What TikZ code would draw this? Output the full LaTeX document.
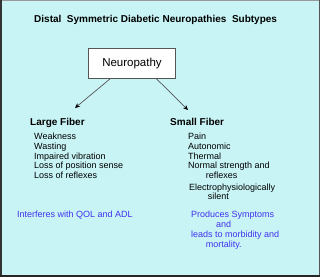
\documentclass[tikz,border=0pt]{standalone}
\usepackage{fontspec}
\setmainfont{Liberation Sans}
\usetikzlibrary{arrows.meta}
\definecolor{bgcyan}{RGB}{200,244,246}
\definecolor{noteblue}{RGB}{64,48,240}
\definecolor{linegray}{RGB}{85,85,85}
\tikzset{
  txt/.style={inner sep=0pt, anchor=base west, font=\fontsize{9}{10}\selectfont},
  head/.style={inner sep=0pt, anchor=base west, font=\fontsize{10}{11}\selectfont\bfseries},
  note/.style={txt, text=noteblue},
  mainbox/.style={draw=linegray, line width=1pt, fill=white, minimum width=87pt, minimum height=30pt, inner sep=0pt, font=\fontsize{11.5}{12}\selectfont},
  conn/.style={draw=linegray, line width=0.7pt, -{Stealth[length=5pt,width=4.5pt,color=black]}}
}
\begin{document}
\begin{tikzpicture}[x=1pt,y=-1pt]
\useasboundingbox (0,0) rectangle (320,277);
\fill[bgcyan] (0,0) rectangle (320,277);
\draw[linegray!60, line width=1pt] (0,0.5) -- (320,0.5);
\draw[black!80, line width=1.5pt] (0.75,0) -- (0.75,277);
\draw[linegray, line width=1.5pt] (319.25,0) -- (319.25,277);
\draw[black!85, line width=2.5pt] (0,275.75) -- (320,275.75);

\node[head] (title) at (34,22) {Distal\ \ Symmetric Diabetic Neuropathies\ \ Subtypes};
\node[mainbox] (neuro) at (132,63.3) {Neuropathy};

\coordinate (lstart) at (110.7,78.3);
\coordinate (rstart) at (156,78.3);
\coordinate (ltip) at (75,108);
\coordinate (rtip) at (188,110);
\draw[conn] (lstart) -- (ltip);
\draw[conn] (rstart) -- (rtip);

\node[head] (large) at (30,125) {Large Fiber};
\node[txt] (l1) at (34,139.5) {Weakness};
\node[txt] (l2) at (34,149.3) {Wasting};
\node[txt] (l3) at (34,159) {Impaired vibration};
\node[txt] (l4) at (34,168.8) {Loss of position sense};
\node[txt] (l5) at (34,178.6) {Loss of reflexes};

\node[head] (small) at (170,125) {Small Fiber};
\node[txt] (s1) at (188,139.5) {Pain};
\node[txt] (s2) at (188,149.3) {Autonomic};
\node[txt] (s3) at (188,159) {Thermal};
\node[txt] (s4) at (188,168.8) {Normal strength and};
\node[txt] (s5) at (205.7,178.6) {reflexes};
\node[txt] (s6) at (189,190) {Electrophysiologically};
\node[txt] (s7) at (207.7,199) {silent};

\node[note] (n1) at (17,217.5) {Interferes with QOL and ADL};
\node[note] (n2) at (191,217.5) {Produces Symptoms};
\node[note] (n3) at (216,227.5) {and};
\node[note] (n4) at (191,237.5) {leads to morbidity and};
\node[note] (n5) at (205.7,247.3) {mortality.};
\end{tikzpicture}
\end{document}
